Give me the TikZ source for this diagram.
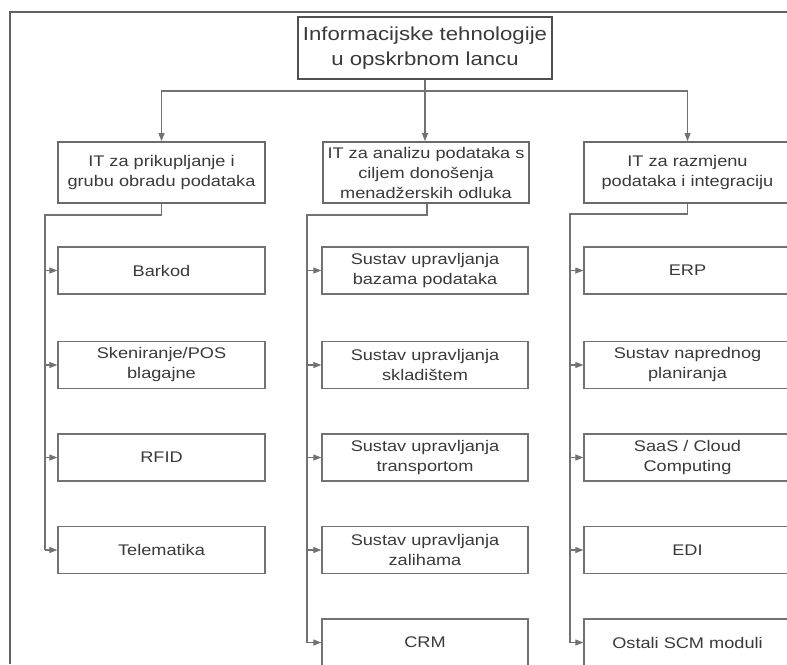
\documentclass[tikz,border=0pt]{standalone}
\usepackage{fontspec}
\setmainfont[FakeStretch=1.18]{Liberation Sans}
\usetikzlibrary{arrows.meta}
\definecolor{txt}{HTML}{3A3A3A}
\definecolor{ln}{HTML}{727272}
\definecolor{lnd}{HTML}{505050}
\begin{document}
\begin{tikzpicture}[x=1pt,y=-1pt,
  topbox/.style={draw=lnd, line width=2.8pt, minimum width=254pt, minimum height=62pt, inner sep=0pt, align=center, text=txt, font=\fontsize{18.8}{25}\selectfont},
  catbox/.style={draw=lnd!85, line width=1.8pt, minimum width=207pt, minimum height=61pt, inner sep=0pt, align=center, text=txt, font=\fontsize{15.4}{20}\selectfont},
  itembox/.style={draw=ln, line width=1.3pt, minimum width=207pt, minimum height=47pt, inner sep=0pt, align=center, text=txt, font=\fontsize{15.4}{20}\selectfont},
  conn/.style={draw=ln, line width=1.1pt},
  arr/.style={conn, -{Triangle[length=8pt,width=6pt]}}]
\path[use as bounding box] (0,0) rectangle (787,664);
\clip (0,0) rectangle (787,664);
\fill[white] (0,0) rectangle (787,664);
% frame
\draw[draw=lnd!90, line width=1.6pt] (10,664) -- (10,12) -- (787,12);
% nodes
\node[topbox] (top) at (425,48) {Informacijske tehnologije\\u opskrbnom lancu};
\node[catbox] (c1) at (161.5,172.5) {IT za prikupljanje i\\grubu obradu podataka};
\node[catbox, minimum width=206pt] (c2) at (426,172.5) {IT za analizu podataka s\\ciljem donošenja\\menadžerskih odluka};
\node[catbox] (c3) at (687.5,172.5) {IT za razmjenu\\podataka i integraciju};
% column 1
\node[itembox] (a1) at (161.5,270.5) {Barkod};
\node[itembox] (a2) at (161.5,365) {Skeniranje/POS\\blagajne};
\node[itembox] (a3) at (161.5,457.5) {RFID};
\node[itembox] (a4) at (161.5,550) {Telematika};
% column 2
\node[itembox, minimum width=206pt] (b1) at (425,270.5) {Sustav upravljanja\\bazama podataka};
\node[itembox, minimum width=206pt] (b2) at (425,365) {Sustav upravljanja\\skladištem};
\node[itembox, minimum width=206pt] (b3) at (425,457.5) {Sustav upravljanja\\transportom};
\node[itembox, minimum width=206pt] (b4) at (425,550) {Sustav upravljanja\\zalihama};
\node[itembox, minimum width=206pt] (b5) at (425,642.5) {CRM};
% column 3
\node[itembox] (d1) at (687.5,270.5) {ERP};
\node[itembox] (d2) at (687.5,365) {Sustav naprednog\\planiranja};
\node[itembox] (d3) at (687.5,457.5) {SaaS / Cloud\\Computing};
\node[itembox] (d4) at (687.5,550) {EDI};
\node[itembox] (d5) at (687.5,642.5) {Ostali SCM moduli};
% top connectors
\coordinate (bus) at (425,91);
\draw[arr] (top.south) -- (top.south |- c2.north);
\draw[arr] (bus) -| (c1.north);
\draw[arr] (bus) -| (c3.north);
% column connectors
\coordinate (s1) at (45,215);
\coordinate (s2) at (307,215);
\coordinate (s3) at (570,214);
\draw[conn] (c1.south) |- (s1) -- (s1 |- a4.west);
\draw[conn] ([xshift=1pt]c2.south) |- (s2) -- (s2 |- b5.west);
\draw[conn] (c3.south) |- (s3) -- (s3 |- d5.west);
\foreach \n in {a1,a2,a3,a4} \draw[arr] (s1 |- \n.west) -- (\n.west);
\foreach \n in {b1,b2,b3,b4,b5} \draw[arr] (s2 |- \n.west) -- (\n.west);
\foreach \n in {d1,d2,d3,d4,d5} \draw[arr] (s3 |- \n.west) -- (\n.west);
\end{tikzpicture}
\end{document}
